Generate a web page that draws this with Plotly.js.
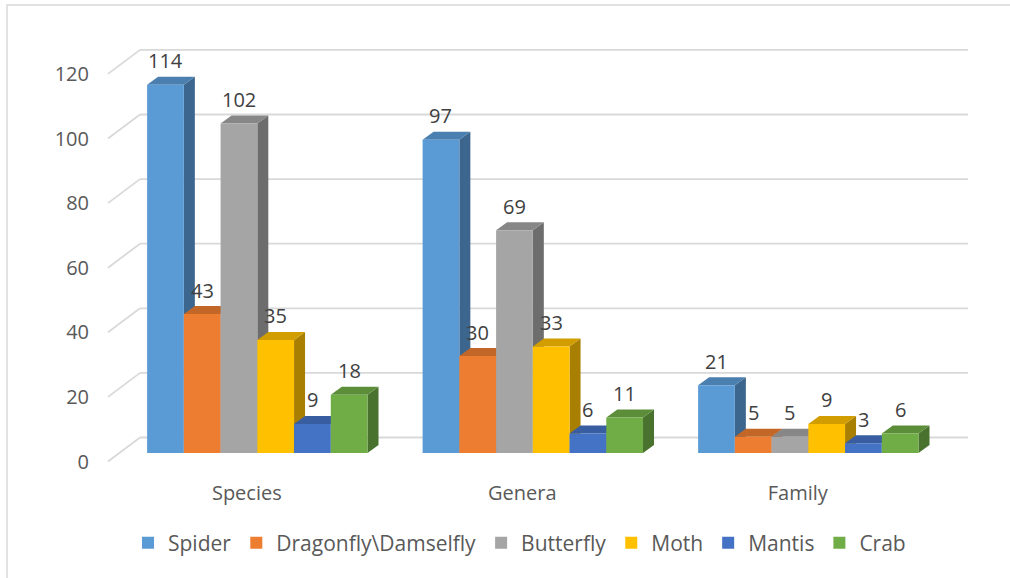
<!DOCTYPE html>
<html>
<head>
<meta charset="utf-8">
<script src="https://cdn.plot.ly/plotly-3.0.1.min.js"></script>
<style>
  html, body { margin: 0; padding: 0; background: #ffffff; }
  #chart { width: 1010px; height: 578px; }
</style>
</head>
<body>
<div id="chart"></div>
<script>
// ---- data ----
const categories = ['Species', 'Genera', 'Family'];
const seriesNames = ['Spider', 'Dragonfly\\Damselfly', 'Butterfly', 'Moth', 'Mantis', 'Crab'];
const spider    = [114, 97, 21];
const dragonfly = [43, 30, 5];
const butterfly = [102, 69, 5];
const moth      = [35, 33, 9];
const mantis    = [9, 6, 3];
const crab      = [18, 11, 6];
const yTicks    = [0, 20, 40, 60, 80, 100, 120];

// ---- style ----
const seriesValues = [spider, dragonfly, butterfly, moth, mantis, crab];
const colors = ['#5B9BD5', '#ED7D31', '#A5A5A5', '#FFC000', '#4472C4', '#70AD47'];
const FONT = 'Open Sans, Liberation Sans, sans-serif';
const TXT = '#595959';

// layout geometry (pixels -> axis units)
const W = 1010, H = 578;
const mL = 108, mR = 42, mT = 40, mB = 113;
const plotW = W - mL - mR, plotH = H - mT - mB;
const xRange = [-0.542, -0.542 + plotW / 275.5];
const yPx = 3.23;                       // pixels per unit
const yRange = [-12 / yPx, (453 - mT) / yPx];
const xUnit = (xRange[1] - xRange[0]) / plotW; // units per px
const yUnit = (yRange[1] - yRange[0]) / plotH;

const groupW = 0.8;
const barW = groupW / seriesValues.length;
const depthX = 11 * xUnit, depthY = 8 * yUnit;   // 3D depth of bars
const backY = 15.5 * yUnit;                        // back wall offset
const frontY = -8.5 * yUnit;                       // front edge of floor lines
const backXpaper = 32 / plotW;
const catShift = -10.5 * xUnit;                    // category labels sit on floor middle

function shade(hex, f) {
  const n = parseInt(hex.slice(1), 16);
  const r = Math.round(((n >> 16) & 255) * f);
  const g = Math.round(((n >> 8) & 255) * f);
  const b = Math.round((n & 255) * f);
  return 'rgb(' + r + ',' + g + ',' + b + ')';
}

const xIdx = categories.map((c, i) => i);
const traces = seriesValues.map((vals, j) => ({
  type: 'bar',
  name: seriesNames[j],
  x: xIdx,
  y: vals,
  width: barW,
  offset: -groupW / 2 + j * barW,
  marker: { color: colors[j], line: { width: 0 } },
  hoverinfo: 'skip'
}));

const shapes = [];
// chart border
shapes.push({
  type: 'rect', xref: 'paper', yref: 'paper', layer: 'below',
  x0: (7 - mL) / plotW, x1: (W + 10 - mL) / plotW,
  y0: (mT + plotH - 5) / plotH, y1: -(H + 10 - mT - plotH) / plotH,
  line: { color: '#d9d9d9', width: 1.5 }, fillcolor: 'rgba(0,0,0,0)'
});
// back wall gridlines + diagonal floor/wall edges
yTicks.forEach(v => {
  shapes.push({ type: 'line', xref: 'paper', yref: 'y', layer: 'below',
    x0: backXpaper, x1: 1, y0: v + backY, y1: v + backY,
    line: { color: '#d9d9d9', width: 1.8 } });
  shapes.push({ type: 'line', xref: 'paper', yref: 'y', layer: 'below',
    x0: 0, x1: backXpaper, y0: v + frontY, y1: v + backY,
    line: { color: '#d9d9d9', width: 1.8 } });
});
// 3D side and top faces
xIdx.forEach(i => {
  seriesValues.forEach((vals, j) => {
    const v = vals[i];
    const x0 = i - groupW / 2 + j * barW;
    const x1 = x0 + barW;
    shapes.push({ type: 'path', xref: 'x', yref: 'y', layer: 'below',
      path: `M${x1},0 L${x1 + depthX},${depthY} L${x1 + depthX},${v + depthY} L${x1},${v} Z`,
      fillcolor: shade(colors[j], 0.66), line: { width: 0 } });
    shapes.push({ type: 'path', xref: 'x', yref: 'y', layer: 'below',
      path: `M${x0},${v} L${x0 + depthX},${v + depthY} L${x1 + depthX},${v + depthY} L${x1},${v} Z`,
      fillcolor: shade(colors[j], 0.82), line: { width: 0 } });
  });
});

// data labels
const annotations = [];
xIdx.forEach(i => {
  seriesValues.forEach((vals, j) => {
    annotations.push({
      x: i - groupW / 2 + (j + 0.5) * barW, y: vals[i], xref: 'x', yref: 'y',
      text: String(vals[i]), showarrow: false, yshift: 24, yanchor: 'middle',
      font: { family: FONT, size: 20, color: '#404040' }
    });
  });
});

const layout = {
  width: W, height: H,
  margin: { l: mL, r: mR, t: mT, b: mB, pad: 0 },
  paper_bgcolor: '#ffffff', plot_bgcolor: 'rgba(0,0,0,0)',
  barmode: 'overlay',
  font: { family: FONT, size: 20, color: TXT },
  xaxis: {
    range: xRange, tickvals: xIdx.map(i => i + catShift), ticktext: categories,
    showgrid: false, zeroline: false, showline: false, ticks: '',
    ticklabelstandoff: 14,
    tickfont: { family: FONT, size: 20, color: TXT }, fixedrange: true
  },
  yaxis: {
    range: yRange, tickvals: yTicks.map(v => v + frontY), ticktext: yTicks.map(String),
    showgrid: false, zeroline: false, showline: false, ticks: '',
    ticklabelstandoff: 18,
    tickfont: { family: FONT, size: 20, color: TXT }, fixedrange: true
  },
  showlegend: true,
  legend: {
    orientation: 'h', xref: 'paper', yref: 'paper',
    x: (519.5 - mL) / plotW, xanchor: 'center',
    y: (mT + plotH - 543) / plotH, yanchor: 'middle',
    font: { family: FONT, size: 21, color: TXT },
    itemwidth: 30, traceorder: 'normal', bgcolor: 'rgba(0,0,0,0)'
  },
  shapes: shapes,
  annotations: annotations,
  hovermode: false
};

Plotly.newPlot('chart', traces, layout, { displayModeBar: false, staticPlot: true });
</script>
</body>
</html>
